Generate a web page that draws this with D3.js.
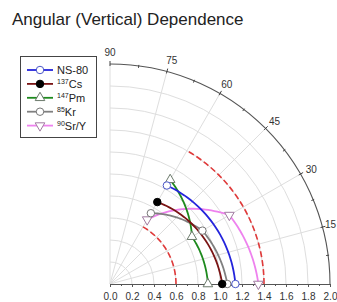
<!DOCTYPE html>
<html>
<head>
<meta charset="utf-8">
<script src="https://cdn.jsdelivr.net/npm/d3@7"></script>
<style>
  html, body { margin: 0; padding: 0; background: #fff; }
  svg { display: block; font-family: "Liberation Sans", Arial, sans-serif; }
</style>
</head>
<body>
<svg id="chart" width="337" height="302"></svg>
<script>
// ---- data ----
const chartTitle = "Angular (Vertical) Dependence";
const seriesNames = ["NS-80", "137Cs", "147Pm", "85Kr", "90Sr/Y"];
const ns80Angles = [0, 60];
const ns80Values = [1.14, 1.034];
const cs137Angles = [0, 60];
const cs137Values = [1.02, 0.86];
const pm147Angles = [0, 30, 60];
const pm147Values = [0.89, 0.86, 1.094];
const kr85Angles = [0, 30, 60];
const kr85Values = [1.066, 0.97, 0.743];
const sr90Angles = [0, 30, 60];
const sr90Values = [1.349, 1.253, 0.676];
const referenceRadii = [0.6, 1.4];
const referenceAngles = [0, 60];
const radialMajorTicks = [0, 0.2, 0.4, 0.6, 0.8, 1.0, 1.2, 1.4, 1.6, 1.8, 2.0];
const radialMinorTicks = [0.1, 0.3, 0.5, 0.7, 0.9, 1.1, 1.3, 1.5, 1.7, 1.9];
const angleTicks = [15, 30, 45, 60, 75, 90];
const angleMinorTicks = [7.5, 22.5, 37.5, 52.5, 67.5, 82.5];

// ---- styles ----
const styles = [
  { color: "#2424dc", marker: "circle", fill: "#fff", mcolor: "#4a56c8" },
  { color: "#7a1414", marker: "circle", fill: "#000", mcolor: "#000" },
  { color: "#1e8a1e", marker: "triangle", fill: "#fff", mcolor: "#6b7a6b" },
  { color: "#808080", marker: "circle", fill: "#fff", mcolor: "#777" },
  { color: "#ee82ee", marker: "triangleDown", fill: "#fff", mcolor: "#a07aa0" }
];
const seriesData = [
  [ns80Angles, ns80Values],
  [cs137Angles, cs137Values],
  [pm147Angles, pm147Values],
  [kr85Angles, kr85Values],
  [sr90Angles, sr90Values]
].map(([a, v], i) => ({ name: seriesNames[i], style: styles[i], pts: a.map((ang, j) => ({ angle: ang, r: v[j] })) }));

const svg = d3.select("#chart");
const cx = 110, cy = 284, R = 220;
const rScale = d3.scaleLinear().domain([0, 2]).range([0, R]);
const toRad = deg => deg * Math.PI / 180;
const d3Angle = deg => toRad(90 - deg); // d3 radial: clockwise from 12 o'clock

// open arc path (single stroke) from angle a0 to a1 (degrees, ccw from x axis)
function arcPath(r, a0, a1) {
  const p = d3.path();
  p.moveTo(r * Math.cos(toRad(a0)), -r * Math.sin(toRad(a0)));
  p.arc(0, 0, r, -toRad(a0), -toRad(a1), true);
  return p.toString();
}

// title
svg.append("text").attr("x", 12).attr("y", 25).attr("font-size", 17).attr("fill", "#222").text(chartTitle);

const g = svg.append("g").attr("transform", `translate(${cx},${cy})`);

// grid circles
g.selectAll(".gridc").data(radialMajorTicks.filter(t => t > 0 && t < 2)).join("path")
  .attr("d", t => arcPath(rScale(t), 0, 90))
  .attr("fill", "none").attr("stroke", "#dedede").attr("stroke-width", 1);
// radial grid lines
g.selectAll(".gridr").data(angleTicks).join("line")
  .attr("x1", 0).attr("y1", 0)
  .attr("x2", a => R * Math.cos(toRad(a))).attr("y2", a => -R * Math.sin(toRad(a)))
  .attr("stroke", "#dedede").attr("stroke-width", 1);

// reference dashed arcs
g.selectAll(".ref").data(referenceRadii).join("path")
  .attr("d", t => arcPath(rScale(t), referenceAngles[0], referenceAngles[1]))
  .attr("fill", "none").attr("stroke", "#e03a3a").attr("stroke-width", 1.6).attr("stroke-dasharray", "6,3");

// outer arc
g.append("path")
  .attr("d", arcPath(R, 0, 90))
  .attr("fill", "none").attr("stroke", "#555").attr("stroke-width", 1.1);
g.selectAll(".atick").data(angleTicks).join("line")
  .attr("x1", a => (R - 2) * Math.cos(toRad(a))).attr("y1", a => -(R - 2) * Math.sin(toRad(a)))
  .attr("x2", a => (R + 3) * Math.cos(toRad(a))).attr("y2", a => -(R + 3) * Math.sin(toRad(a)))
  .attr("stroke", "#444").attr("stroke-width", 1);
g.selectAll(".amtick").data(angleMinorTicks).join("line")
  .attr("x1", a => (R - 2) * Math.cos(toRad(a))).attr("y1", a => -(R - 2) * Math.sin(toRad(a)))
  .attr("x2", a => (R + 1) * Math.cos(toRad(a))).attr("y2", a => -(R + 1) * Math.sin(toRad(a)))
  .attr("stroke", "#444").attr("stroke-width", 1);
g.selectAll(".alabel").data(angleTicks).join("text")
  .attr("x", a => {
    const c = Math.cos(toRad(a));
    const x = (R + 4) * c + (a === 90 ? 0 : -2 + 5 * c * c);
    return Math.min(x, 337 - cx - 12);
  })
  .attr("y", a => {
    const c = Math.cos(toRad(a));
    return -(R + 4) * Math.sin(toRad(a)) + (a === 90 ? -4 : -4 + 6 * c * c);
  })
  .attr("text-anchor", a => a === 90 ? "middle" : "start")
  .attr("font-size", 10).attr("fill", "#333").text(a => a);

// bottom radial axis
const axisScale = d3.scaleLinear().domain([0, 2]).range([0, R]);
g.append("g").call(d3.axisBottom(axisScale).tickValues(radialMinorTicks).tickSize(2).tickFormat(""))
  .call(s => s.select(".domain").remove())
  .call(s => s.selectAll("line").attr("stroke", "#555"));
const ax = g.append("g").call(d3.axisBottom(axisScale).tickValues(radialMajorTicks).tickSize(3).tickSizeOuter(0).tickFormat(d3.format(".1f")));
ax.select(".domain").attr("stroke", "#555");
ax.selectAll("line").attr("stroke", "#555");
ax.selectAll("text").attr("font-size", 10).attr("fill", "#333").attr("font-family", "Liberation Sans, Arial, sans-serif").attr("y", 9).attr("dy", "0.71em");

// polar curve: interpolates radius linearly with angle between points
function polarCurve(context) {
  let prev = null;
  return {
    areaStart() {}, areaEnd() {},
    lineStart() { prev = null; },
    lineEnd() {},
    point(x, y) {
      x = +x; y = +y;
      if (!prev) { context.moveTo(x, y); prev = [x, y]; return; }
      const r0 = Math.hypot(prev[0], prev[1]), a0 = Math.atan2(prev[1], prev[0]);
      const r1 = Math.hypot(x, y), a1 = Math.atan2(y, x);
      const n = 30;
      for (let i = 1; i <= n; i++) {
        const t = i / n, r = r0 + (r1 - r0) * t, a = a0 + (a1 - a0) * t;
        context.lineTo(r * Math.cos(a), r * Math.sin(a));
      }
      prev = [x, y];
    }
  };
}
const lineGen = d3.lineRadial().angle(d => d3Angle(d.angle)).radius(d => rScale(d.r)).curve(polarCurve);

const drawOrder = [4, 3, 2, 1, 0];
drawOrder.forEach(i => {
  const s = seriesData[i];
  g.append("path").attr("d", lineGen(s.pts)).attr("fill", "none")
    .attr("stroke", s.style.color).attr("stroke-width", 1.8);
});

function markerPath(type) {
  if (type === "circle") return d3.symbol().type(d3.symbolCircle).size(44)();
  return d3.symbol().type(d3.symbolTriangle).size(40)();
}
function drawMarker(sel, style, x, y) {
  sel.append("path").attr("d", markerPath(style.marker))
    .attr("transform", `translate(${x},${y})` + (style.marker === "triangleDown" ? " rotate(180)" : ""))
    .attr("fill", style.fill).attr("stroke", style.mcolor).attr("stroke-width", 1);
}
drawOrder.forEach(i => {
  const s = seriesData[i];
  s.pts.forEach(p => {
    const a = toRad(p.angle);
    drawMarker(g, s.style, rScale(p.r) * Math.cos(a), -rScale(p.r) * Math.sin(a));
  });
});

// legend
const lg = svg.append("g");
lg.append("rect").attr("x", 20.5).attr("y", 56.5).attr("width", 76).attr("height", 81)
  .attr("fill", "#fff").attr("stroke", "#444").attr("stroke-width", 1);
seriesData.forEach((s, i) => {
  const y = 70 + i * 13.9;
  lg.append("line").attr("x1", 27).attr("x2", 53).attr("y1", y).attr("y2", y)
    .attr("stroke", s.style.color).attr("stroke-width", 1.8);
  drawMarker(lg, s.style, 40, y);
  const t = lg.append("text").attr("x", 57).attr("y", y + 4).attr("font-size", 11).attr("fill", "#222");
  const m = s.name.match(/^(\d+)(.*)$/);
  if (m) {
    t.append("tspan").attr("font-size", 7).attr("dy", -4).text(m[1]);
    t.append("tspan").attr("dy", 4).text(m[2]);
  } else {
    t.text(s.name);
  }
});
</script>
</body>
</html>
